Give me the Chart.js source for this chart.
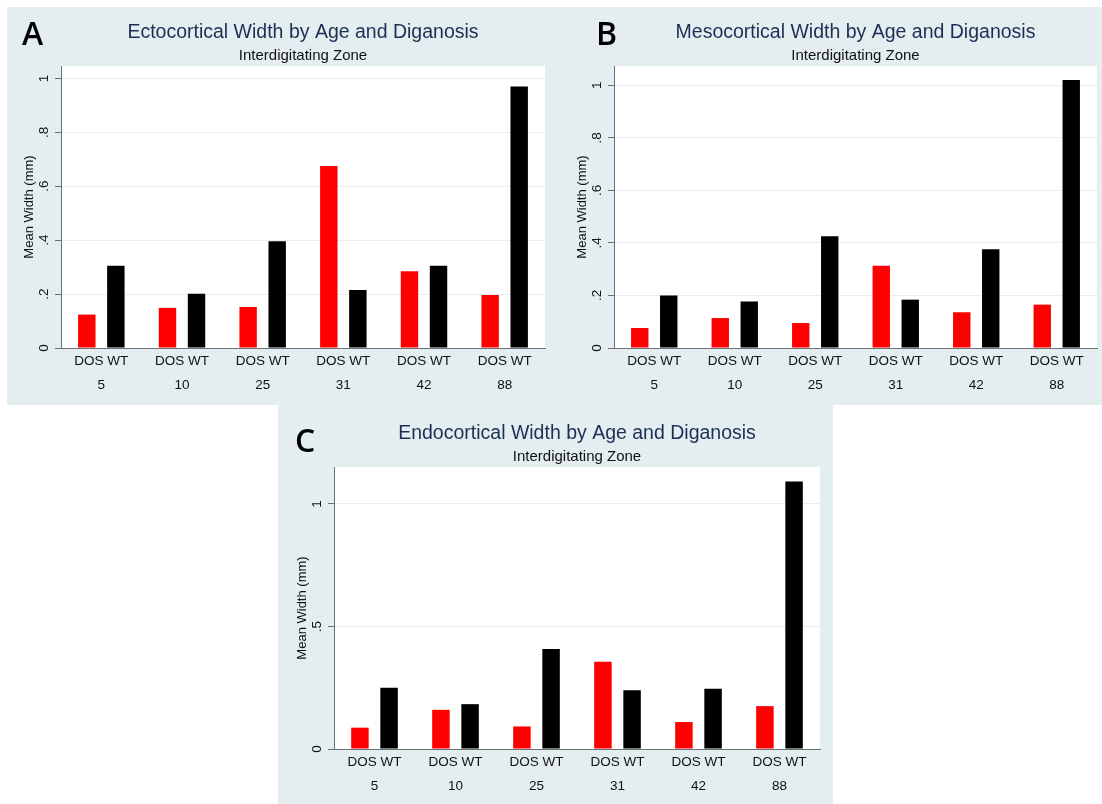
<!DOCTYPE html>
<html>
<head>
<meta charset="utf-8">
<script src="https://cdn.jsdelivr.net/npm/chart.js@4.4.1/dist/chart.umd.min.js"></script>
<style>
  html, body { margin: 0; padding: 0; background: #fff; }
  body { width: 1102px; height: 804px; position: relative; overflow: hidden; }
  .bg { position: absolute; background: #e4edef; }
  .panel { position: absolute; }
</style>
</head>
<body>
<div class="bg" style="left:7px;top:7px;width:1095px;height:398px"></div>
<div class="bg" style="left:278px;top:400px;width:555px;height:404px"></div>
<div class="panel" style="left:7px;top:7px;width:553px;height:398px"><canvas id="chartA"></canvas></div>
<div class="panel" style="left:560px;top:7px;width:542px;height:398px"><canvas id="chartB"></canvas></div>
<div class="panel" style="left:280px;top:405px;width:553px;height:399px"><canvas id="chartC"></canvas></div>
<script>
// ages on the x axis and the two diagnosis groups inside each age
const ages = ['5', '10', '25', '31', '42', '88'];
const groups = ['DOS', 'WT'];
const subtitle = 'Interdigitating Zone';
const yTitle = 'Mean Width (mm)';

// mean widths (mm)
const ectoDOS = [0.124, 0.149, 0.152, 0.675, 0.285, 0.197];
const ectoWT  = [0.305, 0.201, 0.396, 0.215, 0.305, 0.970];
const mesoDOS = [0.076, 0.114, 0.095, 0.313, 0.136, 0.165];
const mesoWT  = [0.200, 0.177, 0.425, 0.184, 0.376, 1.020];
const endoDOS = [0.087, 0.160, 0.092, 0.356, 0.110, 0.175];
const endoWT  = [0.250, 0.183, 0.408, 0.240, 0.246, 1.092];

Chart.defaults.font.family = '"Liberation Sans", Arial, sans-serif';
Chart.defaults.color = '#1a1a1a';

// white plot region + panel letter, title and subtitle centred on the plot
const panelText = {
  id: 'panelText',
  beforeDraw(chart, args, opts) {
    const a = chart.chartArea;
    const ctx = chart.ctx;
    ctx.save();
    ctx.fillStyle = '#ffffff';
    ctx.fillRect(a.left, a.top, a.right - a.left, a.bottom - a.top);
    ctx.restore();
  },
  afterDraw(chart, args, opts) {
    const a = chart.chartArea;
    const ctx = chart.ctx;
    const cx = (a.left + a.right) / 2;
    ctx.save();
    ctx.textAlign = 'center';
    ctx.textBaseline = 'middle';
    ctx.fillStyle = '#1c2f55';
    ctx.font = '19.5px "Liberation Sans", Arial, sans-serif';
    ctx.fillText(opts.title, cx, opts.titleY);
    ctx.fillStyle = '#111';
    ctx.font = '15px "Liberation Sans", Arial, sans-serif';
    ctx.fillText(subtitle, cx, opts.subY);
    ctx.textAlign = 'left';
    ctx.textBaseline = 'alphabetic';
    ctx.fillStyle = '#000';
    ctx.font = '600 32px "Open Sans", sans-serif';
    ctx.fillText(opts.letter, opts.letterX, opts.letterY);
    ctx.restore();
  }
};

function fmtTick(v) {
  if (v === 0) return '0';
  return String(v).replace(/^0\./, '.');
}

function makePanel(id, cfg) {
  new Chart(document.getElementById(id), {
    type: 'bar',
    data: {
      labels: ages.map(a => [groups.join(' '), a]),
      datasets: [
        { label: groups[0], data: cfg.dos, backgroundColor: '#ff0000' },
        { label: groups[1], data: cfg.wt, backgroundColor: '#000000' }
      ]
    },
    options: {
      responsive: true,
      maintainAspectRatio: false,
      animation: false,
      categoryPercentage: 0.72,
      barPercentage: 0.6,
      layout: { padding: cfg.pad },
      plugins: {
        legend: { display: false },
        tooltip: { enabled: false },
        panelText: cfg.text
      },
      scales: {
        x: {
          grid: { display: false, drawTicks: false },
          border: { display: true, color: '#6b7275', width: 1 },
          ticks: {
            padding: 1,
            color: '#111',
            font: { size: 13.5, lineHeight: 1.78 },
            maxRotation: 0,
            autoSkip: false
          },
          afterFit(scale) { scale.height = 46; }
        },
        y: {
          min: 0,
          max: cfg.yMax,
          grid: { color: '#e8eef0', tickLength: 6, tickColor: '#6b7275' },
          border: { display: true, color: '#6b7275', width: 1 },
          ticks: {
            stepSize: cfg.yStep,
            includeBounds: false,
            minRotation: 90,
            maxRotation: 90,
            crossAlign: 'center',
            padding: 5,
            color: '#111',
            font: { size: 13.5 },
            callback: v => fmtTick(v)
          },
          title: {
            display: true,
            text: yTitle,
            color: '#111',
            font: { size: 13 },
            padding: { top: 15, bottom: 0 }
          },
          afterFit(scale) { scale.width = 54; }
        }
      }
    },
    plugins: [panelText]
  });
}

makePanel('chartA', {
  dos: ectoDOS, wt: ectoWT, yMax: 1.046, yStep: 0.2,
  pad: { top: 59, right: 15, bottom: 11, left: 0 },
  text: { letter: 'A', title: 'Ectocortical Width by Age and Diganosis',
          titleY: 26, subY: 49, letterX: 15, letterY: 38 }
});

makePanel('chartB', {
  dos: mesoDOS, wt: mesoWT, yMax: 1.073, yStep: 0.2,
  pad: { top: 59, right: 5, bottom: 11, left: 0 },
  text: { letter: 'B', title: 'Mesocortical Width by Age and Diganosis',
          titleY: 26, subY: 49, letterX: 36, letterY: 38 }
});

makePanel('chartC', {
  dos: endoDOS, wt: endoWT, yMax: 1.151, yStep: 0.5,
  pad: { top: 62, right: 13, bottom: 9, left: 0 },
  text: { letter: 'C', title: 'Endocortical Width by Age and Diganosis',
          titleY: 29, subY: 52, letterX: 15, letterY: 47 }
});
</script>
</body>
</html>
